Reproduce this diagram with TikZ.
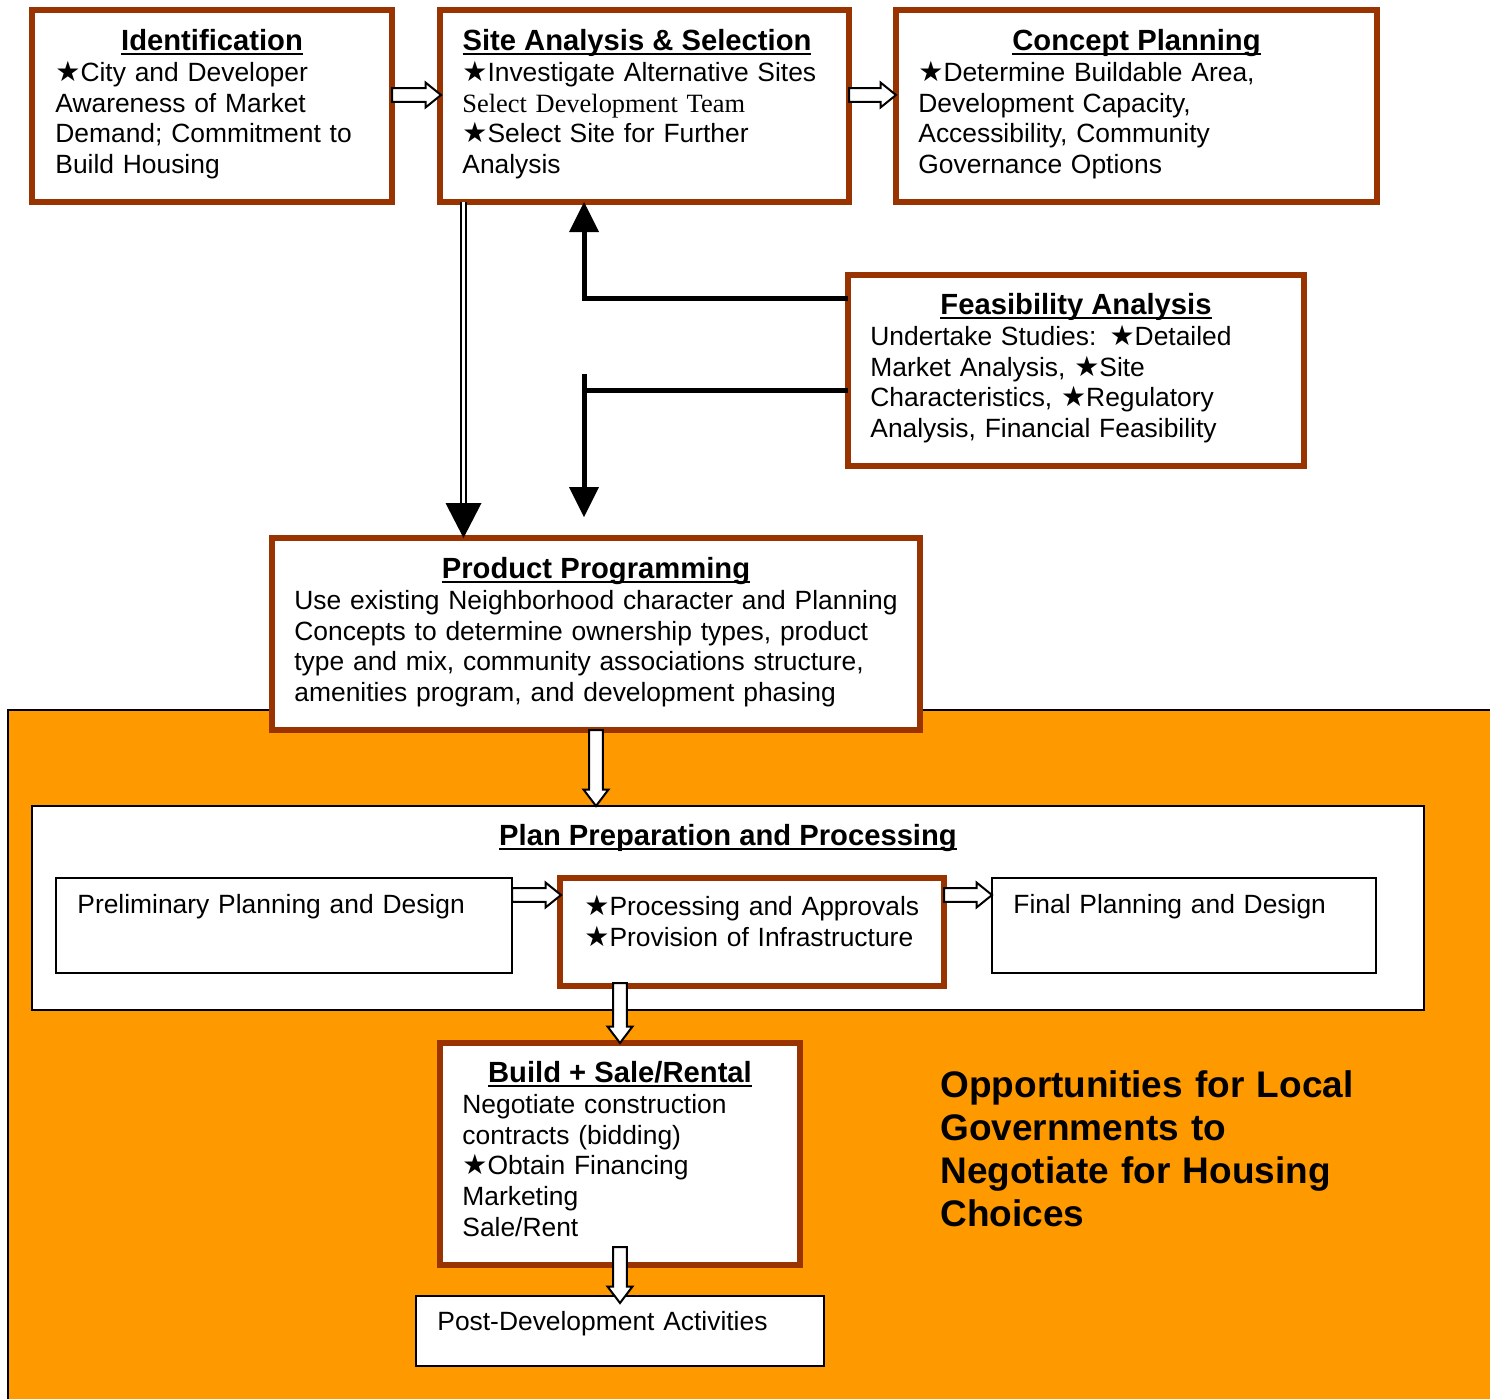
\documentclass[tikz,border=0pt]{standalone}
\usepackage{fontspec}
\setmainfont{Liberation Sans}
\newfontfamily\timesfont{Liberation Serif}
\newfontfamily\starfont{DejaVu Sans}
\usepackage{tikz}
\usetikzlibrary{arrows.meta,positioning,calc}
\definecolor{boxbrown}{HTML}{993300}
\definecolor{govorange}{HTML}{FF9900}
\newcommand\bstar{{\starfont\fontsize{14}{14}\selectfont ★}}
\newcommand\boxtitle[1]{\setbox0\hbox{#1}\rlap{\rule[-2.4pt]{\wd0}{1.3pt}}\box0}
\tikzset{
  brownbox/.style = {
    rectangle,
    draw=boxbrown,
    fill=white,
    line width=3pt,
    outer sep=0pt
  },
  plainbox/.style = {
    rectangle,
    draw,
    fill=white,
    line width=1pt,
    outer sep=0pt
  },
  boxhead/.style = {
    anchor=base,
    inner sep=0pt,
    font=\fontsize{14.6}{17}\selectfont\bfseries
  },
  boxbody/.style = {
    anchor=base west,
    inner sep=0pt,
    align=left,
    text width=310pt,
    font=\fontsize{13.2}{15.35}\selectfont
  },
  bigtext/.style = {
    anchor=base west,
    inner sep=0pt,
    align=left,
    text width=300pt,
    font=\fontsize{18.5}{21.5}\selectfont\bfseries
  },
  hollowarrow/.style = {
    draw,
    fill=white,
    line width=1pt
  },
  blockright/.style = {
    to path={let \p1=(\tikztostart), \p2=(\tikztotarget) in
      (\x1,\y1+3.4pt) -- (\x2-7.75pt,\y1+3.4pt) -- (\x2-7.75pt,\y1+6.25pt)
      -- (\x2,\y1) -- (\x2-7.75pt,\y1-6.25pt) -- (\x2-7.75pt,\y1-3.4pt)
      -- (\x1,\y1-3.4pt) -- cycle}
  },
  blockdown/.style = {
    to path={let \p1=(\tikztostart), \p2=(\tikztotarget) in
      (\x1-3.4pt,\y1) -- (\x1-3.4pt,\y2+8.25pt) -- (\x1-6.25pt,\y2+8.25pt)
      -- (\x1,\y2) -- (\x1+6.25pt,\y2+8.25pt) -- (\x1+3.4pt,\y2+8.25pt)
      -- (\x1+3.4pt,\y1) -- cycle}
  },
  heavyline/.style = {
    line width=2.5pt
  },
  heavyarrow/.style = {
    line width=2.5pt,
    -{Triangle[width=15pt,length=15pt,line width=0pt]}
  },
  twinarrow/.style = {
    double,
    double distance=1.5pt,
    line width=1pt,
    -{Triangle[width=18pt,length=17.5pt,line width=0pt]}
  }
}

\begin{document}
\begin{tikzpicture}[x=0.5pt,y=-0.5pt]
  \useasboundingbox (0,0) rectangle (1490,1399);
  % orange area
  \fill[govorange] (8,710) rectangle (1490,1399);
  \draw[line width=1pt] (8,1399) -- (8,710) -- (1490,710);

  % top row
  \node[brownbox, minimum width=180pt, minimum height=96pt] (ident) at (212,106) {};
  \node[boxhead] (identhead) at ($(ident.north)+(0,40.5)$) {\boxtitle{Identification}};
  \node[boxbody] (identbody) at ($(ident.north west)+(23,71.5)$)
    {\bstar City and Developer\\Awareness of Market\\Demand; Commitment to\\Build Housing};

  \node[brownbox, minimum width=204.5pt, minimum height=96pt] (site) at (644.5,106) {};
  \node[boxhead] (sitehead) at ($(site.north)+(-7.5,40.5)$) {\boxtitle{Site Analysis \& Selection}};
  \node[boxbody] (sitebody) at ($(site.north west)+(22,71.5)$)
    {\bstar Investigate Alternative Sites\\{\timesfont Select Development Team}\\\bstar Select Site for Further\\Analysis};

  \node[brownbox, minimum width=240.5pt, minimum height=96pt] (concept) at (1136.5,106) {};
  \node[boxhead] (concepthead) at ($(concept.north)+(0,40.5)$) {\boxtitle{Concept Planning}};
  \node[boxbody] (conceptbody) at ($(concept.north west)+(22,71.5)$)
    {\bstar Determine Buildable Area,\\Development Capacity,\\Accessibility, Community\\Governance Options};

  % feasibility
  \node[brownbox, minimum width=228pt, minimum height=95.5pt] (feas) at (1076,370.5) {};
  \node[boxhead] (feashead) at ($(feas.north)+(0,39.5)$) {\boxtitle{Feasibility Analysis}};
  \node[boxbody] (feasbody) at ($(feas.north west)+(22,70.5)$)
    {Undertake Studies: \bstar Detailed\\Market Analysis, \bstar Site\\Characteristics, \bstar Regulatory\\Analysis, Financial Feasibility};

  % product programming
  \node[brownbox, minimum width=324pt, minimum height=96pt] (prod) at (596,634) {};
  \node[boxhead] (prodhead) at ($(prod.north)+(0,40.5)$) {\boxtitle{Product Programming}};
  \node[boxbody] (prodbody) at ($(prod.north west)+(22,71.5)$)
    {Use existing Neighborhood character and Planning\\Concepts to determine ownership types, product\\type and mix, community associations structure,\\amenities program, and development phasing};

  % plan preparation
  \node[plainbox, minimum width=696pt, minimum height=102pt] (plan) at (728,908) {};
  \node[boxhead] (planhead) at ($(plan.north)+(0,39.5)$) {\boxtitle{Plan Preparation and Processing}};
  \node[plainbox, minimum width=228pt, minimum height=47.5pt] (prelim) at (284,925.5) {};
  \node[boxbody] (prelimbody) at ($(prelim.north west)+(21,35.5)$) {Preliminary Planning and Design};
  \node[brownbox, minimum width=192pt, minimum height=54pt] (proc) at (752,932) {};
  \node[boxbody] (procbody) at ($(proc.north west)+(24,37.5)$)
    {\bstar Processing and Approvals\\\bstar Provision of Infrastructure};
  \node[plainbox, minimum width=192pt, minimum height=47.5pt] (final) at (1184,925.5) {};
  \node[boxbody] (finalbody) at ($(final.north west)+(21,35.5)$) {Final Planning and Design};

  % build and post
  \node[brownbox, minimum width=180pt, minimum height=111pt] (build) at (620,1154) {};
  \node[boxhead] (buildhead) at ($(build.north)+(0,39.5)$) {\boxtitle{Build + Sale/Rental}};
  \node[boxbody] (buildbody) at ($(build.north west)+(22,70.5)$)
    {Negotiate construction\\contracts (bidding)\\\bstar Obtain Financing\\Marketing\\Sale/Rent};
  \node[plainbox, minimum width=204pt, minimum height=35pt] (post) at (620,1331) {};
  \node[boxbody] (postbody) at ($(post.north west)+(21,34.5)$) {Post-Development Activities};

  \node[bigtext] (opptext) at (940,1097)
    {Opportunities for Local\\Governments to\\Negotiate for Housing\\Choices};

  % hollow arrows
  \draw[hollowarrow] ($(ident.east)+(0,-11)$) to[blockright] ($(site.west)+(1,-11)$);
  \draw[hollowarrow] ($(site.east)+(0,-11)$) to[blockright] ($(concept.west)+(0,-11)$);
  \draw[hollowarrow] ($(prelim.east)+(0,-30.5)$) to[blockright] ($(proc.west)+(1,-37)$);
  \draw[hollowarrow] ($(proc.east)+(0,-37)$) to[blockright] ($(final.west)+(0,-30.5)$);
  \draw[hollowarrow] (prod.south) to[blockdown] (prod.south |- plan.north);
  \draw[hollowarrow] ($(build.north)+(0,-60)$) to[blockdown] (build.north);
  \draw[hollowarrow] ($(build.south)+(0,-18)$) to[blockdown] ($(post.north)+(0,7)$);

  % black arrows
  \coordinate (twintop) at ($(site.south)+(-181,0)$);
  \draw[twinarrow] (twintop) -- (twintop |- prod.north);
  \draw[heavyarrow] ($(feas.west)+(0,-72.5)$) -| ($(site.south)+(-60.5,0)$);
  \coordinate (feaslow) at ($(feas.west)+(0,19.5)$);
  \coordinate (teetop) at ($(prod.north)+(-12,-164)$);
  \coordinate (teetip) at ($(prod.north)+(-12,-21)$);
  \draw[heavyline] (feaslow) -- (feaslow -| teetop);
  \draw[heavyarrow] (teetop) -- (teetip);
\end{tikzpicture}
\end{document}
